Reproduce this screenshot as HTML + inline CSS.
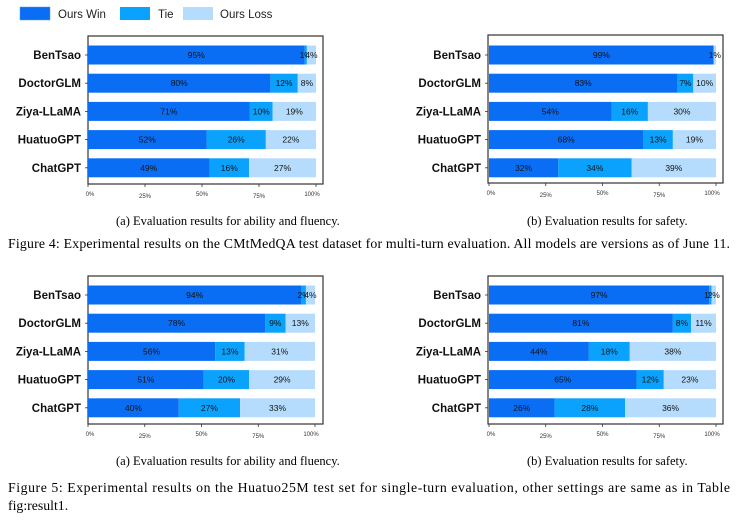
<!DOCTYPE html>
<html><head><meta charset="utf-8"><style>
body{margin:0;background:#fff;width:736px;height:522px;overflow:hidden}
svg{display:block}
.yl{font:bold 11.5px "Liberation Sans",sans-serif;fill:#111}
.tk{font:6px "Liberation Sans",sans-serif;fill:#333}
.vl{font:8.5px "Liberation Sans",sans-serif;fill:#111}
.cap{font:12.5px "Liberation Serif",serif;fill:#000}
.cap2{font:13.8px "Liberation Serif",serif;fill:#000}
.lg{font:11.5px "Liberation Sans",sans-serif;fill:#222}
</style></head><body>
<svg id="s" width="736" height="522">
<g>
<rect x="20" y="7" width="30" height="13" fill="#0a6ef5" stroke="#4a9af8" stroke-width="0.5"/>
<text x="58" y="18" class="lg">Ours Win</text>
<rect x="120" y="7" width="30" height="13" fill="#0aa2fc"/>
<text x="158" y="18" class="lg">Tie</text>
<rect x="183" y="7" width="30" height="13" fill="#b5dcfd"/>
<text x="220" y="18" class="lg">Ours Loss</text>
</g>
<text x="116" y="225" class="cap">(a) Evaluation results for ability and fluency.</text>
<text x="527" y="225" class="cap">(b) Evaluation results for safety.</text>
<text x="8" y="248" class="cap2" textLength="722">Figure 4: Experimental results on the CMtMedQA test dataset for multi-turn evaluation. All models are versions as of June 11.</text>
<text x="116" y="465" class="cap">(a) Evaluation results for ability and fluency.</text>
<text x="527" y="465" class="cap">(b) Evaluation results for safety.</text>
<text x="8" y="492" class="cap2" textLength="722">Figure 5: Experimental results on the Huatuo25M test set for single-turn evaluation, other settings are same as in Table</text>
<text x="8" y="510" class="cap2">fig:result1.</text>
</svg>
<script>
const categories=["BenTsao","DoctorGLM","Ziya-LLaMA","HuatuoGPT","ChatGPT"];
const ticks=["0%","25%","50%","75%","100%"];
const tickVals=[0,25,50,75,100];
const win4a=[95,80,71,52,49], tie4a=[1,12,10,26,16], loss4a=[4,8,19,22,27];
const win4b=[99,83,54,68,32], tie4b=[0,7,16,13,34], loss4b=[1,10,30,19,39];
const win5a=[94,78,56,51,40], tie5a=[2,9,13,20,27], loss5a=[4,13,31,29,33];
const win5b=[97,81,44,65,26], tie5b=[1,8,18,12,28], loss5b=[2,11,38,23,36];
const colors=["#0a6ef5","#0aa2fc","#b5dcfd"];
const NS="http://www.w3.org/2000/svg";
const svg=document.getElementById('s');
function mk(tag,attrs,parent){const e=document.createElementNS(NS,tag);for(const k in attrs)e.setAttribute(k,attrs[k]);(parent||svg).appendChild(e);return e;}
function panel(name,fx,fy,x0,x1,c0,step,series){
  const g=mk('g',{});
  
  
  const xs=v=>x0+(x1-x0)*v/100;
  const fr=mk('rect',{x:fx,y:fy,width:235,height:148,fill:'none',stroke:'#333','stroke-width':1.2},g);
  
  
  tickVals.forEach((v,i)=>{
    const t=mk('text',{x:xs(v)+(i==4?-4:0)+(i==0?2:0),y:fy+160+(i%2?2:0),class:'tk','text-anchor':'middle'},g);
    t.textContent=ticks[i];
    
    
    mk('line',{x1:xs(v),x2:xs(v),y1:fy+148,y2:fy+151,stroke:'#333','stroke-width':0.8},g);
  });
  categories.forEach((c,i)=>{
    const cy=c0+step*i;
    const lab=mk('text',{x:fx-7,y:cy+4,class:'yl','text-anchor':'end'},g);
    lab.textContent=c;
    
    
    mk('line',{x1:fx-3,x2:fx,y1:cy,y2:cy,stroke:'#333','stroke-width':0.8},g);
    const vals=[series[0][i],series[1][i],series[2][i]];
    const sum=vals[0]+vals[1]+vals[2];
    let acc=0;
    vals.forEach((v,k)=>{
      const a=xs(acc/sum*100), b=xs((acc+v)/sum*100);
      acc+=v;
      if(v<=0)return;
      const r=mk('rect',{x:a,y:cy-9.5,width:b-a,height:19,fill:colors[k]},g);
      
      
      const t=mk('text',{x:(a+b)/2,y:cy+3,class:'vl','text-anchor':'middle'},g);
      t.textContent=v+'%';
      
      
    });
  });
}
panel('chart-4a',88,36,88,316,55,28.2,[win4a,tie4a,loss4a]);
panel('chart-4b',488,35,489,716,55,28.2,[win4b,tie4b,loss4b]);
panel('chart-5a',88,276,88,315,295,28.2,[win5a,tie5a,loss5a]);
panel('chart-5b',488,276,489,716,295,28.2,[win5b,tie5b,loss5b]);
</script>
</body></html>
